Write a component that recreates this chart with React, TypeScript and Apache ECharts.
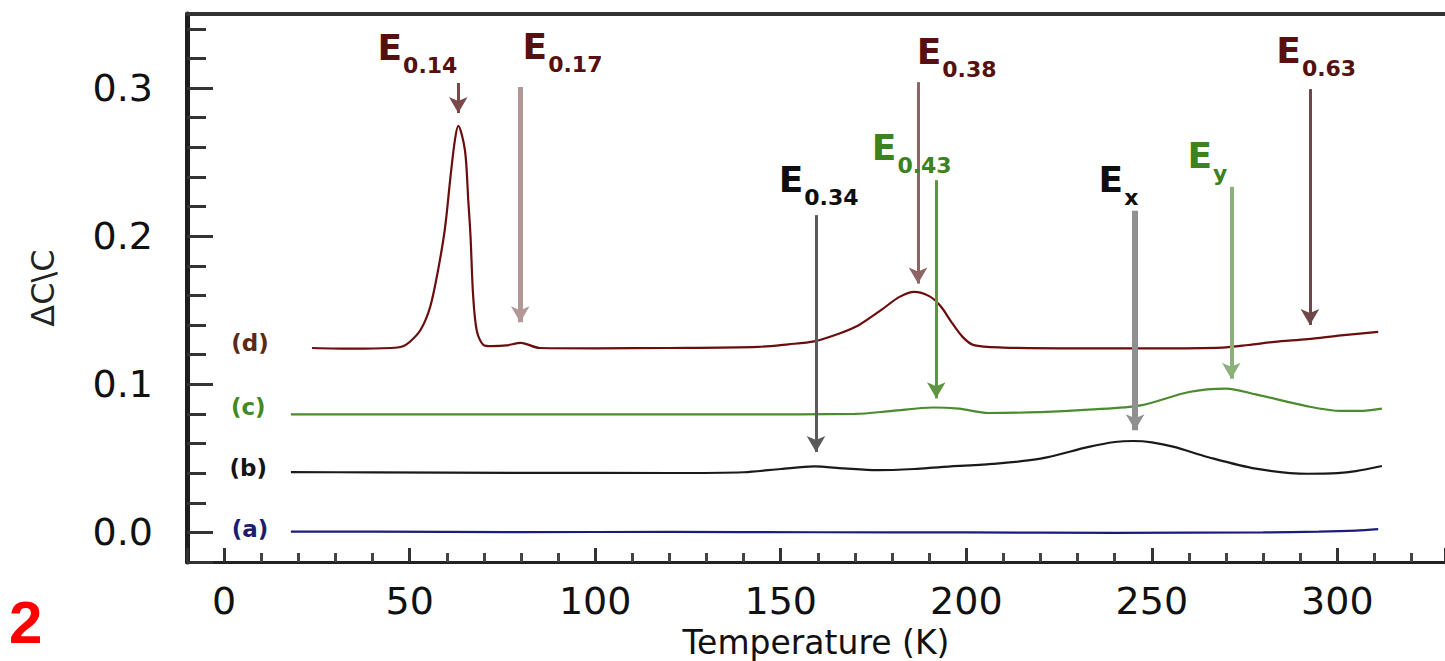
import React, { useEffect, useRef } from "react";
import * as echarts from "echarts";

// ---------- axis ranges ----------
const X_MIN = -10;
const X_MAX = 329;
const Y_MIN = -0.02;
const Y_MAX = 0.35;

// ---------- curves: temperature (K) and ΔC/C ----------
const tempA = [18, 40, 80, 120, 160, 200, 240, 280, 295, 305, 311];
const valA = [0.0005, 0.0005, 0.0002, 0.0003, 0.0001, 0.0, -0.0003, 0.0, 0.0005, 0.0012, 0.0022];

const tempB = [18, 40, 80, 120, 140, 150, 159, 167, 176, 186, 193, 207, 220, 233, 240, 245, 250, 256, 265, 278, 292, 300, 305, 312];
const valB = [0.0407, 0.0405, 0.0402, 0.0401, 0.0406, 0.0428, 0.0446, 0.0432, 0.042, 0.0428, 0.0441, 0.0462, 0.0498, 0.0577, 0.061, 0.0617, 0.0608, 0.0577, 0.0509, 0.043, 0.0396, 0.04, 0.0414, 0.0448];

const tempC = [18, 60, 100, 140, 170, 180, 191, 198, 206, 220, 233, 247, 260, 270, 278, 292, 301, 306, 312];
const valC = [0.0797, 0.0797, 0.0797, 0.0797, 0.08, 0.082, 0.0843, 0.0835, 0.0806, 0.0812, 0.0829, 0.0858, 0.0948, 0.0971, 0.0932, 0.0851, 0.082, 0.082, 0.0836];

const tempD = [23.7, 35, 45, 48, 50, 53, 55.5, 57.5, 59.5, 61, 62.2, 63.1, 64.9, 65.8, 66.4, 67.1, 68.1, 69.9, 72, 76, 80, 85, 100, 120, 144, 152, 159, 166, 171, 177, 182, 186, 190, 193, 196, 199, 202, 210, 230, 250, 269, 276, 283, 292, 301, 311];
const valD = [0.1245, 0.124, 0.1245, 0.1255, 0.1285, 0.137, 0.152, 0.175, 0.205, 0.24, 0.265, 0.2745, 0.258, 0.224, 0.2, 0.16, 0.136, 0.1265, 0.1258, 0.1262, 0.128, 0.1245, 0.1243, 0.1245, 0.1253, 0.127, 0.129, 0.1345, 0.1399, 0.15, 0.159, 0.1624, 0.1595, 0.153, 0.142, 0.132, 0.1264, 0.1248, 0.1243, 0.1243, 0.1248, 0.1265, 0.1286, 0.1305, 0.133, 0.1354];

// ---------- series tags ----------
const seriesTags = ["(a)", "(b)", "(c)", "(d)"];
const seriesTagT = [7, 6.5, 6.5, 7];
const seriesTagV = [0.002, 0.0432, 0.0845, 0.128];

// ---------- level annotations (arrows) ----------
const levelNames = ["0.14", "0.17", "0.38", "0.63", "0.43", "0.34", "x", "y"];
const levelGroup = ["d", "d", "d", "d", "c", "b", "b", "c"];
const arrowT = [63.1, 79.8, 187.0, 292.6, 191.9, 159.5, 245.5, 271.4];
const arrowFrom = [0.3034, 0.3007, 0.304, 0.2993, 0.2378, 0.2142, 0.2171, 0.2333];
const arrowTo = [0.2831, 0.1419, 0.168, 0.14, 0.0905, 0.0543, 0.0689, 0.1038];
const labelT = [52.1, 91.2, 197.4, 294.3, 185.3, 160.2, 241.0, 265.0];
const labelV = [0.3395, 0.3405, 0.3365, 0.3372, 0.2723, 0.2507, 0.2507, 0.2669];

const shaftColors = ["#7a4a4a", "#b49898", "#8c6464", "#6e4848", "#5e9444", "#5a5a5a", "#909090", "#8cb07a"];
const shaftWidths = [3, 5, 3, 3, 3, 3, 6, 4];

const FONT = "DejaVu Sans";
const groupColor: Record<string, string> = { d: "#561010", c: "#3c8220", b: "#0e0e0e" };
const tagColors = ["#1c1c70", "#141414", "#3f8a22", "#5a2a14"];

const pairs = (t: number[], v: number[]) => t.map((x, i) => [x, v[i]]);

export default function App() {
  const ref = useRef<HTMLDivElement>(null);

  useEffect(() => {
    document.body.style.margin = "0";
    if (!ref.current) return;
    const chart = echarts.init(ref.current, undefined, { renderer: "svg" });

    const arrowsFor = (g: string) =>
      levelNames
        .map((_, i) => i)
        .filter((i) => levelGroup[i] === g)
        .map((i) => [
          { coord: [arrowT[i], arrowFrom[i]], lineStyle: { color: shaftColors[i], width: shaftWidths[i], type: "solid" } },
          { coord: [arrowT[i], arrowTo[i]] },
        ]);

    const markLineBase = {
      silent: true,
      animation: false,
      symbol: ["none", "arrow"],
      symbolSize: [14, 16],
      label: { show: false },
    };

    const curve = (name: string, data: number[][], color: string, g: string | null) => ({
      name,
      type: "line",
      data,
      showSymbol: false,
      smooth: 0.3,
      lineStyle: { color, width: 2.2 },
      itemStyle: { color },
      z: 3,
      silent: true,
      ...(g ? { markLine: { ...markLineBase, data: arrowsFor(g) } } : {}),
    });

    const rich: Record<string, any> = {};
    Object.keys(groupColor).forEach((g) => {
      rich["E" + g] = {
        fontFamily: FONT, fontSize: 36, fontWeight: "bold", color: groupColor[g],
        lineHeight: 40, verticalAlign: "top", textBorderWidth: 0, textBorderColor: "transparent",
      };
      rich["s" + g] = {
        fontFamily: FONT, fontSize: 22, fontWeight: "bold", color: groupColor[g],
        lineHeight: 24, verticalAlign: "top", padding: [25, 0, 0, 1], textBorderWidth: 0, textBorderColor: "transparent",
      };
    });

    const option = {
      animation: false,
      grid: { left: 187, right: 0, top: 14, bottom: 99, containLabel: false, outerBoundsMode: "none" },
      xAxis: [
        {
          type: "value",
          min: X_MIN,
          max: X_MAX,
          splitNumber: 6,
          name: "Temperature (K)",
          nameLocation: "middle",
          nameGap: 60,
          nameTextStyle: { fontFamily: FONT, fontSize: 33, lineHeight: 36, color: "#111" },
          axisLine: { show: true, onZero: false, lineStyle: { color: "#222", width: 3 } },
          axisTick: { show: true, inside: true, length: 14, lineStyle: { color: "#333", width: 3 } },
          minorTick: { show: true, splitNumber: 5, length: 9, lineStyle: { color: "#444", width: 3 } },
          splitLine: { show: false },
          minorSplitLine: { show: false },
          axisLabel: { showMinLabel: false, showMaxLabel: false, margin: 20, fontFamily: FONT, fontSize: 38, color: "#111" },
        },
        {
          type: "value",
          position: "top",
          min: X_MIN,
          max: X_MAX,
          axisLine: { show: true, onZero: false, lineStyle: { color: "#333", width: 4 } },
          axisTick: { show: false },
          axisLabel: { show: false },
          splitLine: { show: false },
        },
      ],
      yAxis: {
        type: "value",
        min: Y_MIN,
        max: Y_MAX,
        splitNumber: 5,
        name: "ΔC\\C",
        nameLocation: "middle",
        nameGap: 128,
        nameRotate: 90,
        nameTextStyle: { fontFamily: FONT, fontSize: 32, color: "#222" },
        axisLine: { show: true, onZero: false, lineStyle: { color: "#1e1e1e", width: 5 } },
        axisTick: { show: true, inside: true, length: 26, lineStyle: { color: "#333", width: 3 } },
        minorTick: { show: true, splitNumber: 5, length: 19, lineStyle: { color: "#333", width: 3 } },
        splitLine: { show: false },
        minorSplitLine: { show: false },
        axisLabel: {
          showMinLabel: false,
          showMaxLabel: false,
          margin: 34,
          fontFamily: FONT,
          fontSize: 38,
          color: "#111",
          formatter: (v: number) => v.toFixed(1),
        },
      },
      series: [
        curve("(a)", pairs(tempA, valA), "#1c1c78", null),
        curve("(b)", pairs(tempB, valB), "#1a1a1a", "b"),
        curve("(c)", pairs(tempC, valC), "#4b8a2e", "c"),
        curve("(d)", pairs(tempD, valD), "#6b0d0d", "d"),
        {
          name: "levels",
          type: "scatter",
          symbolSize: 0,
          silent: true,
          z: 5,
          itemStyle: { color: "transparent", opacity: 1 },
          data: levelNames.map((n, i) => ({
            value: [labelT[i], labelV[i]],
            itemStyle: { opacity: 1 },
            label: {
              show: true,
              position: [0, 0],
              align: "center",
              verticalAlign: "top",
              color: groupColor[levelGroup[i]],
              opacity: 1,
              textBorderWidth: 0,
              textBorderColor: "transparent",
              formatter: `{E${levelGroup[i]}|E}{s${levelGroup[i]}|${n}}`,
              rich,
            },
          })),
        },
        {
          name: "tags",
          type: "scatter",
          symbolSize: 0,
          silent: true,
          z: 5,
          itemStyle: { color: "transparent", opacity: 1 },
          data: seriesTags.map((s, i) => ({
            value: [seriesTagT[i], seriesTagV[i]],
            itemStyle: { opacity: 1 },
            label: {
              show: true,
              position: [0, 0],
              align: "center",
              verticalAlign: "middle",
              formatter: s,
              fontFamily: FONT,
              fontSize: 23,
              fontWeight: "bold",
              color: tagColors[i],
              opacity: 1,
              textBorderWidth: 0,
              textBorderColor: "transparent",
            },
          })),
        },
      ],
      graphic: [
        {
          type: "text",
          left: 9,
          top: 592,
          style: { text: "2", fontFamily: "Liberation Sans", fontSize: 60, fontWeight: "bold", fill: "#ff0000" },
        },
      ],
    };

    chart.setOption(option as any);
    return () => chart.dispose();
  }, []);

  return <div ref={ref} style={{ width: 1445, height: 661 }} />;
}
